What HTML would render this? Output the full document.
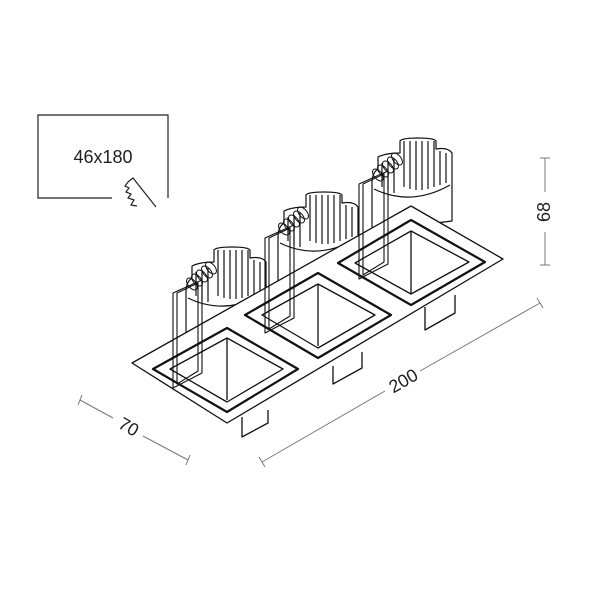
<!DOCTYPE html>
<html><head><style>html,body{margin:0;padding:0;background:#fff}svg{display:block}</style></head>
<body>
<svg width="600" height="600" viewBox="0 0 600 600" xmlns="http://www.w3.org/2000/svg">
<defs>
<g id="cyl" fill="#fff" stroke="#111" stroke-width="1.2" stroke-linejoin="round">
  <path d="M186,340 L186,292 Q186,282 192,278 L192,266 Q200,262 214,262 L214,250 Q216,247 232,247 Q248,247 250,250 L250,258 Q262,256 266,262 L266,330 Z"/>
  <path d="M188,298 Q225,316 264,294" fill="none"/>
  <path d="M218,250 V296 M224,250 V298 M230,250 V299 M236,250 V299 M242,250 V298 M248,250 V296 M254,260 V294 M260,262 V292" fill="none"/>
  <path d="M196,272 V296 M202,270 V300 M208,268 V302" fill="none"/>
  <g fill="none" stroke-width="1">
    <ellipse cx="192" cy="284" rx="4" ry="7" transform="rotate(-40 192 284)"/>
    <ellipse cx="197" cy="280" rx="4" ry="7" transform="rotate(-40 197 280)"/>
    <ellipse cx="202" cy="276" rx="4" ry="7" transform="rotate(-40 202 276)"/>
    <ellipse cx="207" cy="272" rx="4" ry="7" transform="rotate(-40 207 272)"/>
    <ellipse cx="211" cy="268" rx="4" ry="7" transform="rotate(-40 211 268)"/>
  </g>
</g>
<g id="clip" fill="none" stroke="#111" stroke-width="1.1" stroke-linejoin="round">
  <polygon points="173,293 202,280 202,373 173,388"/>
  <polygon points="177,293 198,283 198,371 177,384"/>
</g>
</defs>

<use href="#cyl" transform="translate(186,-109)"/>
<use href="#cyl" transform="translate(92,-55)"/>
<use href="#cyl"/>

<g stroke="#111" stroke-width="1.3" fill="#fff" stroke-linejoin="round">
  <polygon points="132,363 411,206 503,259 227,423"/>
  <path d="M242,417 V437 L268,423 V410" fill="none"/>
  <path d="M333,366 V384 L362,368 V352" fill="none"/>
  <path d="M425,307 V330 L455,313 V295" fill="none"/>
  <polygon points="153,369 227,328 298,369 227,412" stroke-width="2.2"/>
  <polygon points="170,369 227,338 283,369 227,402"/>
  <path d="M227,338 V400" fill="none"/>
  <polygon points="245,315 318,273 391,315 318,358" stroke-width="2.2"/>
  <polygon points="262,315 318,284 375,315 318,348"/>
  <path d="M318,284 V346" fill="none"/>
  <polygon points="338,263 411,220 485,262 411,305" stroke-width="2.2"/>
  <polygon points="355,263 411,231 469,262 411,294"/>
  <path d="M411,231 V293" fill="none"/>
</g>

<use href="#clip"/>
<use href="#clip" transform="translate(92,-55)"/>
<use href="#clip" transform="translate(186,-109)"/>

<g stroke="#777" stroke-width="1" fill="none">
  <path d="M545,158 V192 M545,232 V265 M540,158 H550 M540,265 H550"/>
  <path d="M262,462 L385,391 M420,371 L540,303 M259,457 L265,467 M537,298 L543,308"/>
  <path d="M80,400 L113,418 M143,436 L188,460 M82,395 L78,405 M190,455 L186,465"/>
</g>
<g font-family="Liberation Sans, sans-serif" font-size="18" fill="#222">
  <text x="545" y="212" text-anchor="middle" dominant-baseline="middle" transform="rotate(-90 545 212)">68</text>
  <text x="404" y="382" text-anchor="middle" dominant-baseline="middle" transform="rotate(-30 404 382)">200</text>
  <text x="128" y="428" text-anchor="middle" dominant-baseline="middle" transform="rotate(30 128 428)">70</text>
</g>

<g stroke="#222" stroke-width="1.2" fill="none">
  <path d="M112,198 H38 V115 H168 V198"/>
  <path d="M128,182 L133,178 L156,207 M128,182 L125,186 L129,188 L126,192 L131,194 L128,198 L134,200 L131,205 L137,206"/>
</g>
<text x="103" y="163" text-anchor="middle" font-family="Liberation Sans, sans-serif" font-size="18" fill="#222">46x180</text>
</svg>
</body></html>
